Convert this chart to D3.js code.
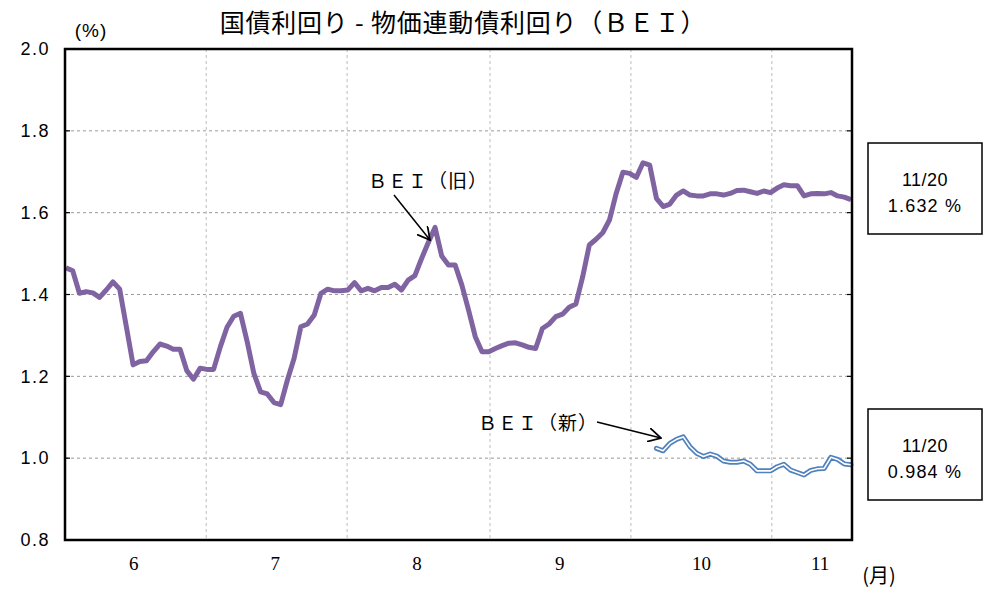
<!DOCTYPE html>
<html>
<head>
<meta charset="utf-8">
<script src="https://cdn.jsdelivr.net/npm/d3@7"></script>
<style>
  body { margin: 0; background: #fff; }
  svg { display: block; }
</style>
</head>
<body>
<svg id="chart"></svg>
<script>
// BEI (old), one value per business day
const beiOld = [
  1.465, 1.458, 1.403, 1.407, 1.404, 1.393, 1.411, 1.431, 1.413, 1.321,
  1.228, 1.236, 1.238, 1.260, 1.279, 1.274, 1.266, 1.266, 1.214, 1.193,
  1.220, 1.217, 1.217, 1.272, 1.320, 1.347, 1.354, 1.285, 1.207, 1.162,
  1.157, 1.136, 1.131, 1.191, 1.244, 1.321, 1.328, 1.350, 1.403, 1.413,
  1.409, 1.409, 1.411, 1.429, 1.409, 1.415, 1.409, 1.417, 1.417, 1.425,
  1.411, 1.435, 1.446, 1.488, 1.527, 1.564, 1.494, 1.472, 1.472, 1.423,
  1.362, 1.297, 1.260, 1.260, 1.268, 1.275, 1.281, 1.282, 1.277, 1.271,
  1.268, 1.317, 1.328, 1.346, 1.352, 1.369, 1.377, 1.443, 1.521, 1.535,
  1.551, 1.582, 1.647, 1.699, 1.696, 1.686, 1.722, 1.716, 1.635, 1.615,
  1.621, 1.643, 1.653, 1.643, 1.641, 1.641, 1.646, 1.646, 1.643, 1.647,
  1.654, 1.655, 1.651, 1.647, 1.653, 1.649, 1.660, 1.668, 1.666, 1.666,
  1.641, 1.646, 1.647, 1.646, 1.649, 1.641, 1.638, 1.632
];
// BEI (new) starts later in the period
const beiNewStart = 88;
const beiNew = [
  1.024, 1.018, 1.036, 1.046, 1.052, 1.028, 1.012, 1.004, 1.010, 1.005,
  0.993, 0.990, 0.990, 0.993, 0.985, 0.969, 0.969, 0.969, 0.979, 0.985,
  0.971, 0.965, 0.959, 0.970, 0.974, 0.975, 1.002, 0.997, 0.986, 0.984
];

const months = ["6", "7", "8", "9", "10", "11"];
const monthMid = [10.1, 31.2, 52.3, 73.6, 94.7, 112.4];   // label position (day index)
const monthBreaks = [20.9, 41.9, 63.2, 84.2, 105.2];      // gridline position (day index)
const yTicks = [0.8, 1.0, 1.2, 1.4, 1.6, 1.8, 2.0];
const lastDate = "11/20";

const width = 995;
const height = 590;
const plotLeft = 65, plotRight = 852, plotTop = 49, plotBottom = 540;

const svg = d3.select("#chart")
  .attr("width", width)
  .attr("height", height)
  .attr("viewBox", `0 0 ${width} ${height}`);

const x = d3.scaleLinear()
  .domain([0, beiOld.length - 1])
  .range([plotLeft + 1, plotRight - 1]);

const y = d3.scaleLinear()
  .domain([0.8, 2.0])
  .range([plotBottom, plotTop]);

// horizontal gridlines
svg.append("g")
  .selectAll("line")
  .data(yTicks.slice(1, -1))
  .join("line")
    .attr("x1", plotLeft).attr("x2", plotRight)
    .attr("y1", d => y(d)).attr("y2", d => y(d))
    .attr("stroke", "#9a9a9a")
    .attr("stroke-width", 1)
    .attr("stroke-dasharray", "3,3");

// vertical gridlines at month boundaries
svg.append("g")
  .selectAll("line")
  .data(monthBreaks)
  .join("line")
    .attr("x1", d => x(d)).attr("x2", d => x(d))
    .attr("y1", plotTop).attr("y2", plotBottom)
    .attr("stroke", "#bdbdbd")
    .attr("stroke-width", 1)
    .attr("stroke-dasharray", "3,3");

// y axis: labels on the left, short inside ticks both sides
const yAxisL = svg.append("g")
  .attr("transform", `translate(${plotLeft},0)`)
  .call(d3.axisLeft(y).tickValues(yTicks).tickFormat(d3.format(".1f")).tickSize(0).tickPadding(15));
yAxisL.select(".domain").remove();
yAxisL.selectAll("text")
  .attr("font-family", "'Liberation Sans', Arial, sans-serif")
  .attr("font-size", 18)
  .attr("letter-spacing", 1.5)
  .attr("fill", "#000");

svg.append("g")
  .selectAll("line")
  .data(yTicks)
  .join("line")
    .attr("x1", plotLeft).attr("x2", plotLeft + 5)
    .attr("y1", d => y(d)).attr("y2", d => y(d))
    .attr("stroke", "#000").attr("stroke-width", 1.2);
svg.append("g")
  .selectAll("line")
  .data(yTicks)
  .join("line")
    .attr("x1", plotRight - 5).attr("x2", plotRight)
    .attr("y1", d => y(d)).attr("y2", d => y(d))
    .attr("stroke", "#000").attr("stroke-width", 1.2);

// month labels
svg.append("g")
  .selectAll("text")
  .data(months)
  .join("text")
    .attr("x", (d, i) => x(monthMid[i]))
    .attr("y", 570)
    .attr("text-anchor", "middle")
    .attr("font-family", "'Liberation Serif', 'Times New Roman', serif")
    .attr("font-size", 19)
    .text(d => d);

svg.append("text")
  .attr("x", 879).attr("y", 583)
  .attr("text-anchor", "middle")
  .attr("font-family", "'Noto Sans CJK JP', sans-serif")
  .attr("font-size", 20)
  .text("(月)");

svg.append("text")
  .attr("x", 91).attr("y", 37)
  .attr("text-anchor", "middle")
  .attr("font-family", "'Liberation Sans', Arial, sans-serif")
  .attr("font-size", 19)
  .attr("letter-spacing", 1)
  .text("(%)");

svg.append("text")
  .attr("x", 463).attr("y", 32)
  .attr("text-anchor", "middle")
  .attr("font-family", "'Noto Sans CJK JP', sans-serif")
  .attr("font-size", 25)
  .attr("letter-spacing", 0.8)
  .text("国債利回り - 物価連動債利回り（ＢＥＩ）");

// lines
const line = d3.line()
  .x(d => x(d.i))
  .y(d => y(d.v));

const oldPts = beiOld.map((v, i) => ({ i, v }));
const newPts = beiNew.map((v, k) => ({ i: beiNewStart + k, v }));

svg.append("path")
  .datum(oldPts)
  .attr("d", line)
  .attr("fill", "none")
  .attr("stroke", "#8064a2")
  .attr("stroke-width", 5)
  .attr("stroke-linejoin", "round");

svg.append("path")
  .datum(newPts)
  .attr("d", line)
  .attr("fill", "none")
  .attr("stroke", "#4f81bd")
  .attr("stroke-width", 5)
  .attr("stroke-linejoin", "round")
  .attr("stroke-linecap", "round");
svg.append("path")
  .datum(newPts)
  .attr("d", line)
  .attr("fill", "none")
  .attr("stroke", "#fff")
  .attr("stroke-width", 1.6)
  .attr("stroke-linejoin", "round")
  .attr("stroke-linecap", "round");

// plot frame
svg.append("rect")
  .attr("x", plotLeft).attr("y", plotTop)
  .attr("width", plotRight - plotLeft).attr("height", plotBottom - plotTop)
  .attr("fill", "none")
  .attr("stroke", "#000")
  .attr("stroke-width", 2.5);

// annotations with arrows
svg.append("defs").append("marker")
  .attr("id", "arrow")
  .attr("viewBox", "0 0 12 12")
  .attr("refX", 11).attr("refY", 6)
  .attr("markerWidth", 14).attr("markerHeight", 14)
  .attr("markerUnits", "userSpaceOnUse")
  .attr("orient", "auto")
  .append("path")
    .attr("d", "M0,0 L11,6 L0,12")
    .attr("fill", "none")
    .attr("stroke", "#000")
    .attr("stroke-width", 1.5);

svg.append("text")
  .attr("x", 428).attr("y", 188)
  .attr("text-anchor", "middle")
  .attr("font-family", "'Noto Sans CJK JP', sans-serif")
  .attr("font-size", 19)
  .attr("letter-spacing", 1)
  .text("ＢＥＩ（旧）");
svg.append("line")
  .attr("x1", 394).attr("y1", 195)
  .attr("x2", 430).attr("y2", 240)
  .attr("stroke", "#000").attr("stroke-width", 1.5)
  .attr("marker-end", "url(#arrow)");

svg.append("text")
  .attr("x", 538).attr("y", 430)
  .attr("text-anchor", "middle")
  .attr("font-family", "'Noto Sans CJK JP', sans-serif")
  .attr("font-size", 19)
  .attr("letter-spacing", 1)
  .text("ＢＥＩ（新）");
svg.append("line")
  .attr("x1", 597).attr("y1", 422)
  .attr("x2", 661).attr("y2", 438)
  .attr("stroke", "#000").attr("stroke-width", 1.5)
  .attr("marker-end", "url(#arrow)");

// latest value boxes
const boxes = [
  { top: 143, value: beiOld[beiOld.length - 1] },
  { top: 409, value: beiNew[beiNew.length - 1] }
];
const box = svg.append("g")
  .selectAll("g")
  .data(boxes)
  .join("g")
    .attr("transform", d => `translate(868,${d.top})`);
box.append("rect")
  .attr("width", 114).attr("height", 91)
  .attr("fill", "#fff")
  .attr("stroke", "#000")
  .attr("stroke-width", 1.5);
box.append("text")
  .attr("x", 57).attr("y", 43)
  .attr("text-anchor", "middle")
  .attr("font-family", "'Liberation Sans', Arial, sans-serif")
  .attr("font-size", 18)
  .attr("letter-spacing", 0.5)
  .text(lastDate);
box.append("text")
  .attr("x", 57).attr("y", 69)
  .attr("text-anchor", "middle")
  .attr("font-family", "'Liberation Sans', Arial, sans-serif")
  .attr("font-size", 18)
  .attr("letter-spacing", 1.2)
  .text(d => d.value.toFixed(3) + " %");
</script>
</body>
</html>
